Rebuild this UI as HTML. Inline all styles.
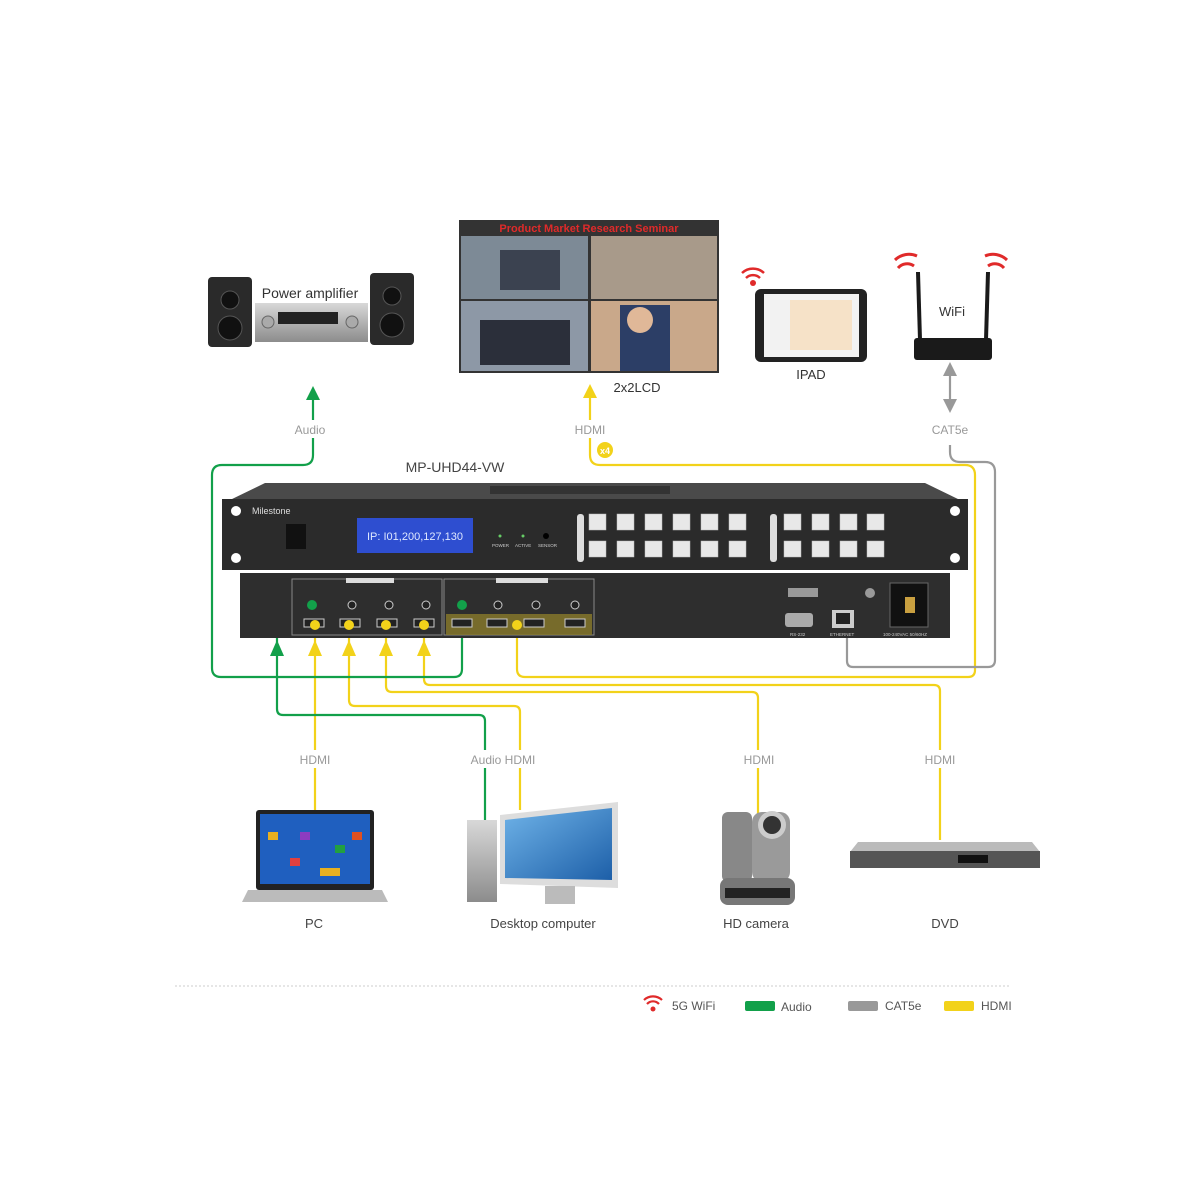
<!DOCTYPE html>
<html><head><meta charset="utf-8"><style>
html,body{margin:0;padding:0;background:#fff}
svg{display:block}
text{font-family:"Liberation Sans",sans-serif}
</style></head><body>
<svg width="1200" height="1200" viewBox="0 0 1200 1200" xmlns="http://www.w3.org/2000/svg">
<defs>
<linearGradient id="scr" x1="0" y1="0" x2="1" y2="1"><stop offset="0" stop-color="#6fb3e8"/><stop offset="1" stop-color="#1d5fa8"/></linearGradient>
<linearGradient id="met" x1="0" y1="0" x2="0" y2="1"><stop offset="0" stop-color="#d8d8d8"/><stop offset="1" stop-color="#8c8c8c"/></linearGradient>
</defs>
<rect x="0" y="0" width="1200" height="1200" fill="#fff"/>

<!-- video wall -->
<rect x="459" y="220" width="260" height="153" fill="#333"/>
<rect x="461" y="236" width="127" height="63" fill="#7d8a96"/>
<rect x="591" y="236" width="126" height="63" fill="#a89a8a"/>
<rect x="461" y="301" width="127" height="70" fill="#8d98a6"/>
<rect x="591" y="301" width="126" height="70" fill="#c9a88a"/>
<rect x="620" y="305" width="50" height="66" fill="#2c3e66"/>
<circle cx="640" cy="320" r="13" fill="#e0b898"/>
<rect x="500" y="250" width="60" height="40" fill="#3b4250"/>
<rect x="480" y="320" width="90" height="45" fill="#2b2f3a"/>
<text x="589" y="232" font-size="11" font-weight="bold" fill="#e02a2a" text-anchor="middle">Product Market Research Seminar</text>
<text x="637" y="392" font-size="13" fill="#333" text-anchor="middle">2x2LCD</text>

<!-- amplifier -->
<rect x="208" y="277" width="44" height="70" rx="4" fill="#2a2a2a"/>
<circle cx="230" cy="300" r="9" fill="#111" stroke="#555"/>
<circle cx="230" cy="328" r="12" fill="#111" stroke="#555"/>
<rect x="370" y="273" width="44" height="72" rx="4" fill="#2a2a2a"/>
<circle cx="392" cy="296" r="9" fill="#111" stroke="#555"/>
<circle cx="392" cy="325" r="12" fill="#111" stroke="#555"/>
<rect x="255" y="303" width="113" height="39" fill="url(#met)"/>
<rect x="278" y="312" width="60" height="12" fill="#222"/>
<circle cx="268" cy="322" r="6" fill="#aaa" stroke="#666"/>
<circle cx="352" cy="322" r="6" fill="#aaa" stroke="#666"/>
<text x="310" y="298" font-size="14" fill="#333" text-anchor="middle">Power amplifier</text>

<!-- iPad -->
<rect x="755" y="289" width="112" height="73" rx="6" fill="#222"/>
<rect x="764" y="294" width="95" height="63" fill="#f2f2f2"/>
<rect x="790" y="300" width="62" height="50" fill="#f6e2c8"/>
<text x="811" y="379" font-size="13" fill="#333" text-anchor="middle">IPAD</text>
<g fill="none" stroke="#e02a2a" stroke-width="2.5"><path d="M746 278a10 10 0 0 1 14 0M742 273a16 16 0 0 1 22 0"/></g>
<circle cx="753" cy="283" r="3" fill="#e02a2a"/>

<!-- router -->
<rect x="914" y="338" width="78" height="22" rx="3" fill="#1a1a1a"/>
<line x1="920" y1="340" x2="918" y2="272" stroke="#1a1a1a" stroke-width="4"/>
<line x1="986" y1="340" x2="988" y2="272" stroke="#1a1a1a" stroke-width="4"/>
<text x="952" y="316" font-size="13" fill="#333" text-anchor="middle">WiFi</text>
<g fill="none" stroke="#e02a2a" stroke-width="3"><path d="M898 268a12 12 0 0 1 16 -2M895 260a20 20 0 0 1 22 -4"/><path d="M1004 268a12 12 0 0 0 -16 -2M1007 260a20 20 0 0 0 -22 -4"/></g>

<!-- connectors -->
<g fill="none" stroke-width="2.2">
<path d="M590 395V455q0 10 10 10H965q10 0 10 10V670q0 7-7 7H525q-8 0-8-8V625" stroke="#f2d21a"/>
<path d="M315 810V625" stroke="#f2d21a"/>
<path d="M349 625V700q0 6 6 6H514q6 0 6 6V810" stroke="#f2d21a"/>
<path d="M386 625V686q0 6 6 6H752q6 0 6 6V845" stroke="#f2d21a"/>
<path d="M424 625V679q0 6 6 6H934q6 0 6 6V840" stroke="#f2d21a"/>
<path d="M313 395V455q0 10-10 10H222q-10 0-10 10V668q0 9 9 9H454q8 0 8-8V605" stroke="#12a04a"/>
<path d="M277 650V709q0 6 6 6H479q6 0 6 6V822" stroke="#12a04a"/>
<path d="M277 650V612q0-9 9-9H312" stroke="#12a04a"/>
<path d="M950 445V452q0 10 10 10H985q10 0 10 10V660q0 7-7 7H853q-6 0-6-6V625" stroke="#999"/>
<path d="M950 370V405" stroke="#999"/>
</g>
<g fill="#fff">
<rect x="290" y="420" width="45" height="18"/>
<rect x="570" y="420" width="42" height="18"/>
<rect x="925" y="420" width="50" height="18"/>
<rect x="290" y="750" width="50" height="18"/>
<rect x="465" y="750" width="75" height="18"/>
<rect x="737" y="750" width="44" height="18"/>
<rect x="918" y="750" width="44" height="18"/>
</g>
<polygon points="313,386 306,400 320,400" fill="#12a04a"/>
<polygon points="590,384 583,398 597,398" fill="#f2d21a"/>
<polygon points="950,362 943,376 957,376" fill="#999"/>
<polygon points="950,413 943,399 957,399" fill="#999"/>
<polygon points="277,640 270,656 284,656" fill="#12a04a"/>
<polygon points="315,640 308,656 322,656" fill="#f2d21a"/>
<polygon points="349,640 342,656 356,656" fill="#f2d21a"/>
<polygon points="386,640 379,656 393,656" fill="#f2d21a"/>
<polygon points="424,640 417,656 431,656" fill="#f2d21a"/>
<circle cx="605" cy="450" r="8" fill="#f2d21a"/>
<text x="605" y="454" font-size="9" font-weight="bold" fill="#fff" text-anchor="middle">x4</text>

<g font-size="12" fill="#999" text-anchor="middle">
<text x="310" y="434">Audio</text><text x="590" y="434">HDMI</text><text x="950" y="434">CAT5e</text>
<text x="315" y="764">HDMI</text><text x="503" y="764">Audio  HDMI</text><text x="759" y="764">HDMI</text><text x="940" y="764">HDMI</text>
</g>
<text x="455" y="472" font-size="14" fill="#444" text-anchor="middle">MP-UHD44-VW</text>

<!-- front panel -->
<polygon points="265,483 925,483 960,500 230,500" fill="#4a4a4a"/>
<rect x="490" y="486" width="180" height="8" fill="#333"/>
<rect x="222" y="499" width="746" height="71" fill="#2b2b2b"/>
<circle cx="236" cy="511" r="5" fill="#fff"/><circle cx="236" cy="558" r="5" fill="#fff"/>
<circle cx="955" cy="511" r="5" fill="#fff"/><circle cx="955" cy="558" r="5" fill="#fff"/>
<text x="252" y="514" font-size="9" fill="#ddd">Milestone</text>
<rect x="286" y="524" width="20" height="25" fill="#111"/>
<rect x="357" y="518" width="116" height="35" fill="#2e4ed0"/>
<text x="415" y="540" font-size="11" fill="#dfe8ff" text-anchor="middle" font-family="Liberation Serif">IP: I01,200,127,130</text>
<g font-size="4.5" fill="#ccc"><text x="492" y="547">POWER</text><text x="515" y="547">ACTIVE</text><text x="538" y="547">SENSOR</text></g>
<circle cx="500" cy="536" r="1.5" fill="#6c6"/><circle cx="523" cy="536" r="1.5" fill="#6c6"/><circle cx="546" cy="536" r="3" fill="#000"/>
<rect x="577" y="514" width="7" height="48" rx="3" fill="#ddd"/>
<rect x="770" y="514" width="7" height="48" rx="3" fill="#ddd"/>
<g fill="#e8e8e8" stroke="#bbb" stroke-width="0.5">
<rect x="589" y="514" width="17" height="16"/><rect x="617" y="514" width="17" height="16"/><rect x="645" y="514" width="17" height="16"/><rect x="673" y="514" width="17" height="16"/><rect x="701" y="514" width="17" height="16"/><rect x="729" y="514" width="17" height="16"/>
<rect x="589" y="541" width="17" height="16"/><rect x="617" y="541" width="17" height="16"/><rect x="645" y="541" width="17" height="16"/><rect x="673" y="541" width="17" height="16"/><rect x="701" y="541" width="17" height="16"/><rect x="729" y="541" width="17" height="16"/>
<rect x="784" y="514" width="17" height="16"/><rect x="812" y="514" width="17" height="16"/><rect x="840" y="514" width="17" height="16"/><rect x="867" y="514" width="17" height="16"/>
<rect x="784" y="541" width="17" height="16"/><rect x="812" y="541" width="17" height="16"/><rect x="840" y="541" width="17" height="16"/><rect x="867" y="541" width="17" height="16"/>
</g>
<!-- rear panel -->
<rect x="240" y="573" width="710" height="65" fill="#2e2e2e"/>
<rect x="292" y="579" width="150" height="56" fill="none" stroke="#888"/>
<rect x="444" y="579" width="150" height="56" fill="none" stroke="#888"/>
<rect x="446" y="614" width="146" height="21" fill="#8a7a2a" opacity="0.8"/>
<rect x="346" y="578" width="48" height="5" fill="#ddd"/><rect x="496" y="578" width="52" height="5" fill="#ddd"/>
<g fill="#222" stroke="#ccc" stroke-width="1">
<circle cx="352" cy="605" r="4"/><circle cx="389" cy="605" r="4"/><circle cx="426" cy="605" r="4"/>
<circle cx="498" cy="605" r="4"/><circle cx="536" cy="605" r="4"/><circle cx="575" cy="605" r="4"/>
<rect x="304" y="619" width="20" height="8"/><rect x="340" y="619" width="20" height="8"/><rect x="377" y="619" width="20" height="8"/><rect x="414" y="619" width="20" height="8"/>
<rect x="452" y="619" width="20" height="8"/><rect x="487" y="619" width="20" height="8"/><rect x="524" y="619" width="20" height="8"/><rect x="565" y="619" width="20" height="8"/>
</g>
<rect x="785" y="613" width="28" height="14" rx="3" fill="#aaa"/>
<rect x="832" y="610" width="22" height="18" fill="#ccc"/><rect x="836" y="613" width="14" height="11" fill="#222"/>
<rect x="890" y="583" width="38" height="44" fill="#111" stroke="#666"/>
<rect x="905" y="597" width="10" height="16" fill="#c9a040"/>
<circle cx="870" cy="593" r="5" fill="#999"/>
<rect x="788" y="588" width="30" height="9" fill="#999"/>
<g fill="#ccc" font-size="4.5"><text x="790" y="636">RS-232</text><text x="830" y="636">ETHERNET</text><text x="883" y="636">100-240VAC 50/60HZ</text></g>
<circle cx="312" cy="605" r="5" fill="#12a04a"/><circle cx="462" cy="605" r="5" fill="#12a04a"/>
<g fill="#f2d21a"><circle cx="315" cy="625" r="5"/><circle cx="349" cy="625" r="5"/><circle cx="386" cy="625" r="5"/><circle cx="424" cy="625" r="5"/><circle cx="517" cy="625" r="5"/></g>

<!-- laptop -->
<rect x="256" y="810" width="118" height="80" rx="3" fill="#222"/>
<rect x="260" y="814" width="110" height="70" fill="#1f5fbf"/>
<g fill="#e8b020"><rect x="268" y="832" width="10" height="8"/><rect x="300" y="832" width="10" height="8" fill="#8c3cc0"/><rect x="335" y="845" width="10" height="8" fill="#22a040"/><rect x="290" y="858" width="10" height="8" fill="#e04040"/><rect x="320" y="868" width="20" height="8"/><rect x="352" y="832" width="10" height="8" fill="#e05020"/></g>
<polygon points="248,890 382,890 388,902 242,902" fill="#bbb"/>
<text x="314" y="928" font-size="13" fill="#444" text-anchor="middle">PC</text>
<!-- desktop -->
<rect x="467" y="820" width="30" height="82" fill="url(#met)"/>
<polygon points="500,815 618,802 618,888 500,884" fill="#ddd"/>
<polygon points="505,820 612,808 612,880 505,878" fill="url(#scr)"/>
<rect x="545" y="886" width="30" height="18" fill="#bbb"/>
<text x="543" y="928" font-size="13" fill="#444" text-anchor="middle">Desktop computer</text>
<!-- camera -->
<rect x="722" y="812" width="30" height="70" rx="6" fill="#888"/>
<rect x="752" y="812" width="38" height="70" rx="10" fill="#9a9a9a"/>
<circle cx="772" cy="825" r="14" fill="#ccc"/><circle cx="772" cy="825" r="9" fill="#333"/>
<rect x="720" y="878" width="75" height="27" rx="8" fill="#777"/>
<rect x="725" y="888" width="65" height="10" fill="#222"/>
<text x="756" y="928" font-size="13" fill="#444" text-anchor="middle">HD camera</text>
<!-- DVD -->
<polygon points="858,842 1032,842 1040,852 850,852" fill="#bbb"/>
<rect x="850" y="851" width="190" height="17" fill="#555"/>
<rect x="958" y="855" width="30" height="8" fill="#111"/>
<text x="945" y="928" font-size="13" fill="#444" text-anchor="middle">DVD</text>

<!-- legend -->
<line x1="175" y1="986" x2="1010" y2="986" stroke="#ccc" stroke-dasharray="2,2"/>
<g fill="none" stroke="#e02a2a" stroke-width="2.2"><path d="M647 1004a8 8 0 0 1 12 0M644 1000a13 13 0 0 1 18 0"/></g>
<circle cx="653" cy="1009" r="2.5" fill="#e02a2a"/>
<text x="672" y="1010" font-size="12" fill="#555">5G WiFi</text>
<rect x="745" y="1001" width="30" height="10" rx="2" fill="#12a04a"/>
<text x="781" y="1011" font-size="12" fill="#555">Audio</text>
<rect x="848" y="1001" width="30" height="10" rx="2" fill="#999"/>
<text x="885" y="1010" font-size="12" fill="#555">CAT5e</text>
<rect x="944" y="1001" width="30" height="10" rx="2" fill="#f2d21a"/>
<text x="981" y="1010" font-size="12" fill="#555">HDMI</text>
</svg>
</body></html>
